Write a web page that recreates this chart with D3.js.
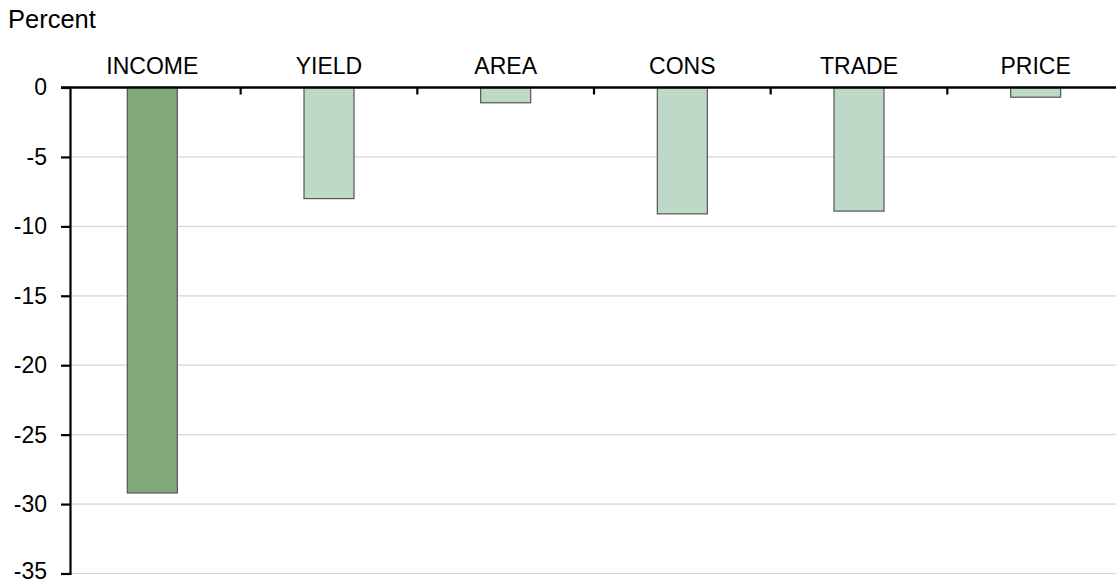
<!DOCTYPE html>
<html>
<head>
<meta charset="utf-8">
<script src="https://cdn.jsdelivr.net/npm/d3@7"></script>
<style>
  html, body { margin: 0; padding: 0; background: #fff; }
  svg { display: block; font-family: "Liberation Sans", Arial, Helvetica, sans-serif; }
</style>
</head>
<body>
<svg id="chart" width="1116" height="584"></svg>
<script>
const categories = ["INCOME", "YIELD", "AREA", "CONS", "TRADE", "PRICE"];
const values = [-29.2, -8.0, -1.1, -9.1, -8.9, -0.7];
const highlight = ["INCOME"];
const yTicks = [0, -5, -10, -15, -20, -25, -30, -35];
const yLabel = "Percent";

const W = 1116, H = 584;
const svg = d3.select("#chart");

const y = d3.scaleLinear().domain([0, -35]).range([87.5, 573.5]);
const x = d3.scaleBand().domain(categories).range([64, 1124]).padding(0);
const barW = x.bandwidth() * 0.283;
const axisX = 70;

// gridlines
svg.append("g").selectAll("line").data(yTicks.filter(d => d !== 0)).join("line")
  .attr("x1", axisX).attr("x2", W)
  .attr("y1", d => y(d)).attr("y2", d => y(d))
  .attr("stroke", "#d6d6d6").attr("stroke-width", 1.2);

// bars
svg.append("g").selectAll("rect").data(categories).join("rect")
  .attr("x", d => x(d) + x.bandwidth() / 2 - barW / 2)
  .attr("width", barW)
  .attr("y", (d, i) => y(Math.max(0, values[i])))
  .attr("height", (d, i) => Math.abs(y(values[i]) - y(0)))
  .attr("fill", d => highlight.includes(d) ? "#80a878" : "#bfd9c8")
  .attr("stroke", "#555")
  .attr("stroke-width", 1.2);

// y axis
const yAxis = d3.axisLeft(y).tickValues(yTicks).tickSize(9).tickPadding(14).tickFormat(d => String(d));
const gy = svg.append("g").attr("transform", `translate(${axisX},0)`).call(yAxis);
gy.select(".domain").attr("stroke", "#000").attr("stroke-width", 2.2);
gy.selectAll(".tick line").attr("stroke", "#000").attr("stroke-width", 2.2);
gy.selectAll(".tick text").attr("font-size", 23).attr("fill", "#000")
  .attr("font-family", "'Liberation Sans', Arial, sans-serif")
  .attr("dy", d => d === d3.min(yTicks) ? "0.2em" : "0.32em");

// zero line
svg.append("line")
  .attr("x1", 61).attr("x2", W)
  .attr("y1", y(0)).attr("y2", y(0))
  .attr("stroke", "#000").attr("stroke-width", 2.4);

// category ticks (band boundaries)
svg.append("g").selectAll("line").data(categories.slice(1)).join("line")
  .attr("x1", d => x(d)).attr("x2", d => x(d))
  .attr("y1", y(0)).attr("y2", y(0) + 7)
  .attr("stroke", "#000").attr("stroke-width", 2.2);

// category labels
svg.append("g").selectAll("text").data(categories).join("text")
  .attr("x", d => x(d) + x.bandwidth() / 2)
  .attr("y", 74)
  .attr("text-anchor", "middle")
  .attr("font-size", 23)
  .attr("fill", "#000")
  .text(d => d);

// y label
svg.append("text")
  .attr("x", 8).attr("y", 28)
  .attr("font-size", 25.5)
  .attr("fill", "#000")
  .text(yLabel);
</script>
</body>
</html>
